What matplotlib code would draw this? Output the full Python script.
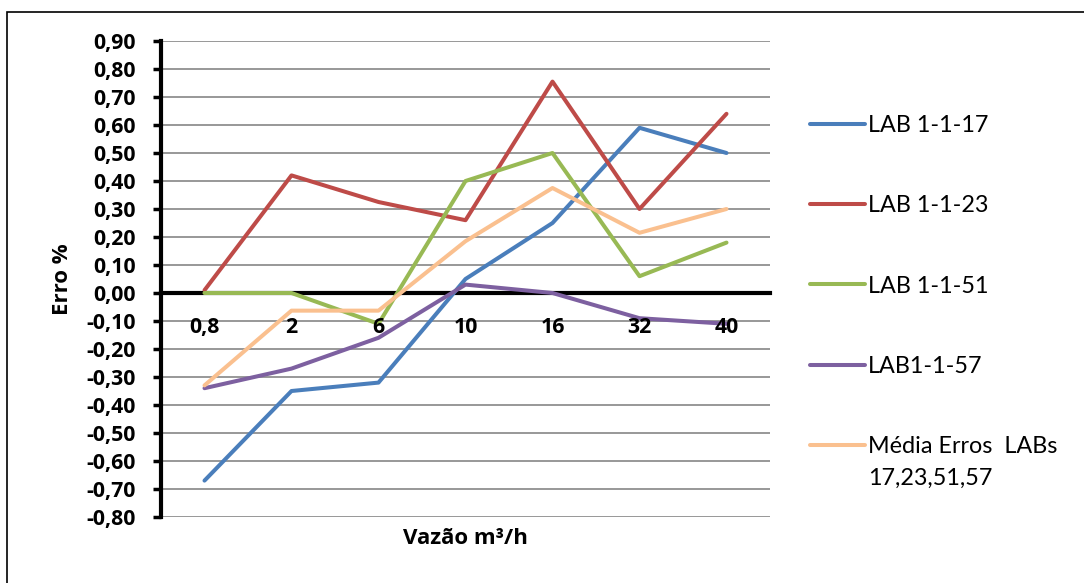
import matplotlib

matplotlib.use("Agg")
import matplotlib.pyplot as plt
from matplotlib.patches import Rectangle
from matplotlib.ticker import FuncFormatter, MultipleLocator

plt.rcParams["font.family"] = ["Lato", "DejaVu Sans"]
BOLD_FONT = ["Open Sans", "DejaVu Sans"]

vazao = ["0,8", "2", "6", "10", "16", "32", "40"]

lab_17 = [-0.67, -0.35, -0.32, 0.05, 0.25, 0.59, 0.50]
lab_23 = [0.01, 0.42, 0.325, 0.26, 0.755, 0.30, 0.64]
lab_51 = [0.00, 0.00, -0.11, 0.40, 0.50, 0.06, 0.18]
lab_57 = [-0.34, -0.27, -0.16, 0.03, 0.00, -0.09, -0.11]
media = [-0.33, -0.063, -0.063, 0.185, 0.375, 0.215, 0.30]

series_names = ["LAB 1-1-17", "LAB 1-1-23", "LAB 1-1-51", "LAB1-1-57", "Média Erros  LABs"]
series_colors = ["#4A7EBB", "#BE4B48", "#98B954", "#7D60A0", "#FAC08F"]

W, H = 1084, 583
fig = plt.figure(figsize=(W / 100, H / 100), dpi=100)
fig.patch.set_facecolor("white")

# chart frame (only the left and top edges fall inside the image)
fig.patches.append(Rectangle((7 / W, -0.2), 1.2, 1.2 - 12 / H, transform=fig.transFigure,
                             fill=False, edgecolor="black", linewidth=1.2))

ax = fig.add_axes([161 / W, 66 / H, (770 - 161) / W, (517 - 41) / H])
ax.set_facecolor("none")

x = list(range(len(vazao)))
for vals, name, color in zip([lab_17, lab_23, lab_51, lab_57, media], series_names, series_colors):
    ax.plot(x, vals, color=color, linewidth=2.9, label=name, solid_capstyle="round", zorder=3)

ax.set_xlim(-0.5, len(vazao) - 0.5)
ax.set_ylim(-0.8, 0.9)
ax.yaxis.set_major_locator(MultipleLocator(0.1))
ax.yaxis.set_major_formatter(FuncFormatter(lambda v, _: f"{round(v, 2) + 0.0:.2f}".replace(".", ",")))
ax.set_xticks(x)
ax.set_xticklabels(vazao)

ax.grid(axis="y", color="#868686", linewidth=1.2)
ax.set_axisbelow(True)
# category labels sit on top of the series lines
ax.xaxis.set_zorder(4)

for side in ["top", "right"]:
    ax.spines[side].set_visible(False)
ax.spines["bottom"].set_position(("data", 0))
ax.spines["bottom"].set_linewidth(3)
ax.spines["bottom"].set_zorder(2)
ax.spines["left"].set_linewidth(3)

ax.tick_params(axis="y", length=6, width=2.5, pad=12)
ax.tick_params(axis="x", length=0, pad=17)
for lbl in ax.get_xticklabels() + ax.get_yticklabels():
    lbl.set_fontweight("bold")
    lbl.set_fontfamily(BOLD_FONT)
    lbl.set_fontsize(15.3)

ax.set_ylabel("Erro %", fontsize=16, fontweight="bold", family=BOLD_FONT, labelpad=10)
fig.text(465.5 / W, 1 - 538 / H, "Vazão m³/h", fontsize=16, fontweight="bold",
         family=BOLD_FONT, ha="center", va="center")

leg = fig.legend(loc="upper left", bbox_to_anchor=(810 / W, 1 - 115 / H),
                 frameon=False, fontsize=16.8, handlelength=2.35, handletextpad=0.15,
                 labelspacing=2.54, borderpad=0, borderaxespad=0)

# second line of the last legend label, under its first line
fig.canvas.draw()
last = leg.get_texts()[-1]
bb = last.get_window_extent()
fig.text(bb.x0 / W, (bb.y0 + bb.y1) / 2 / H - 32 / H, "17,23,51,57", fontsize=16.8,
         ha="left", va="center")

fig.savefig("out.png", dpi=100)
